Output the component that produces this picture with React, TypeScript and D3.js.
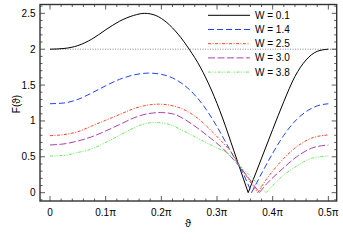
import React from 'react';
import * as d3 from 'd3';

// theta in units of pi, F value
const curveW01: [number, number][] = [
  [0, 2.0], [0.025, 2.01], [0.05, 2.05], [0.075, 2.14], [0.1, 2.27], [0.125, 2.39], [0.15, 2.47],
  [0.17, 2.5], [0.19, 2.47], [0.21, 2.37], [0.23, 2.21], [0.25, 2.0], [0.27, 1.75], [0.29, 1.43],
  [0.31, 1.04], [0.33, 0.59], [0.356, 0], [0.38, 0.48], [0.4, 0.88], [0.42, 1.27], [0.44, 1.62],
  [0.46, 1.85], [0.48, 1.97], [0.5, 2.0],
];
const curveW14: [number, number][] = [
  [0, 1.24], [0.025, 1.25], [0.05, 1.3], [0.075, 1.39], [0.1, 1.49], [0.125, 1.58], [0.15, 1.64],
  [0.177, 1.667], [0.2, 1.65], [0.225, 1.58], [0.25, 1.44], [0.275, 1.22], [0.3, 0.92], [0.325, 0.57],
  [0.345, 0.3], [0.362, 0], [0.383, 0.31], [0.4, 0.55], [0.42, 0.8], [0.443, 1.02], [0.46, 1.13],
  [0.48, 1.21], [0.5, 1.24],
];
const curveW25: [number, number][] = [
  [0, 0.795], [0.025, 0.81], [0.05, 0.85], [0.075, 0.93], [0.1, 1.01], [0.125, 1.09], [0.15, 1.17],
  [0.175, 1.22], [0.195, 1.234], [0.215, 1.22], [0.24, 1.16], [0.265, 1.04], [0.29, 0.86], [0.31, 0.7],
  [0.325, 0.57], [0.342, 0.36], [0.373, 0], [0.39, 0.2], [0.413, 0.42], [0.443, 0.64], [0.47, 0.76],
  [0.5, 0.805],
];
const curveW30: [number, number][] = [
  [0, 0.665], [0.025, 0.68], [0.05, 0.72], [0.075, 0.78], [0.1, 0.86], [0.125, 0.95], [0.15, 1.04],
  [0.175, 1.1], [0.198, 1.117], [0.22, 1.1], [0.24, 1.03], [0.265, 0.9], [0.29, 0.75], [0.31, 0.62],
  [0.325, 0.5], [0.342, 0.35], [0.376, 0], [0.39, 0.13], [0.413, 0.3], [0.443, 0.5], [0.47, 0.62],
  [0.5, 0.665],
];
const curveW38: [number, number][] = [
  [0, 0.51], [0.025, 0.52], [0.05, 0.56], [0.075, 0.61], [0.1, 0.7], [0.125, 0.8], [0.15, 0.9],
  [0.17, 0.96], [0.189, 0.978], [0.21, 0.96], [0.235, 0.88], [0.265, 0.76], [0.295, 0.64], [0.32, 0.54],
  [0.342, 0.37], [0.365, 0.19], [0.388, 0], [0.4, 0.1], [0.413, 0.2], [0.443, 0.37], [0.47, 0.48],
  [0.5, 0.51],
];

const seriesNames = ['W = 0.1', 'W = 1.4', 'W = 2.5', 'W = 3.0', 'W = 3.8'];
const seriesData = [curveW01, curveW14, curveW25, curveW30, curveW38];
const seriesColors = ['#000000', '#2244ff', '#ff4422', '#aa44aa', '#66ee55'];
const seriesDash = ['', '6,3', '3,1.5,1,1.5', '7,2.5', '3,1.5,1,1.5,1,1.5'];

const xTicks = [0, 0.1, 0.2, 0.3, 0.4, 0.5];
const xTickLabels = ['0', '0.1\u03c0', '0.2\u03c0', '0.3\u03c0', '0.4\u03c0', '0.5\u03c0'];
const yTicks = [0, 0.5, 1, 1.5, 2, 2.5];
const yTickLabels = ['0', '0.5', '1', '1.5', '2', '2.5'];
const refLevel = 2;

const W = 343, H = 242;
const left = 40, right = 336.7, top = 4.5, bottom = 201;
const font = 'Liberation Sans, Arial, sans-serif';

export default function App() {
  const x = d3.scaleLinear().domain([-0.018, 0.515]).range([left, right]);
  const y = d3.scaleLinear().domain([-0.116, 2.623]).range([bottom, top]);

  const line = d3.line<[number, number]>()
    .x(d => x(d[0]))
    .y(d => y(d[1]))
    .curve(d3.curveMonotoneX);

  // split at the zero so the cusp stays sharp
  const pathFor = (d: [number, number][]) => {
    const k = d.findIndex(p => p[1] === 0);
    if (k < 0) return line(d) || '';
    return (line(d.slice(0, k + 1)) || '') + (line(d.slice(k)) || '');
  };

  const xMinor = d3.range(0, 0.515, 0.02);
  const yMinor = d3.range(-0.1, 2.62, 0.1);
  const frame = '#333';

  return (
    <svg width={W} height={H} style={{ position: 'absolute', left: 0, top: 0 }}
      fontFamily={font}>
      <rect x={0} y={0} width={W} height={H} fill="#fff" />

      {/* reference level */}
      <line x1={x(0)} x2={right} y1={y(refLevel)} y2={y(refLevel)}
        stroke="#888" strokeWidth={1} strokeDasharray="1,1.5" />

      {seriesData.map((d, i) => (
        <path key={i} d={pathFor(d)} fill="none" stroke={seriesColors[i]}
          strokeWidth={1} strokeDasharray={seriesDash[i] || undefined} />
      ))}

      {/* ticks */}
      {xMinor.map((t, i) => {
        const major = xTicks.some(v => Math.abs(v - t) < 1e-6);
        const len = major ? 5 : 2.5;
        return (
          <g key={'xm' + i} stroke={frame} strokeWidth={0.8}>
            <line x1={x(t)} x2={x(t)} y1={bottom} y2={bottom - len} />
            <line x1={x(t)} x2={x(t)} y1={top} y2={top + len} />
          </g>
        );
      })}
      {yMinor.map((v, i) => {
        const major = yTicks.some(t => Math.abs(t - v) < 1e-6);
        const len = major ? 5 : 2.5;
        return (
          <g key={'ym' + i} stroke={frame} strokeWidth={0.8}>
            <line x1={left} x2={left + len} y1={y(v)} y2={y(v)} />
            <line x1={right} x2={right - len} y1={y(v)} y2={y(v)} />
          </g>
        );
      })}

      <rect x={left} y={top} width={right - left} height={bottom - top}
        fill="none" stroke={frame} strokeWidth={1.4} />

      {xTicks.map((t, i) => (
        <text key={'xl' + i} x={x(t)} y={215.5} fontSize={10} textAnchor="middle">{xTickLabels[i]}</text>
      ))}
      {yTicks.map((v, i) => (
        <text key={'yl' + i} x={35.5} y={y(v)} dy="0.35em" fontSize={10} textAnchor="end">{yTickLabels[i]}</text>
      ))}

      <text x={188} y={227} fontSize={11} textAnchor="middle">{'\u03d1'}</text>
      <text transform={`translate(20,104) rotate(-90)`} fontSize={10} textAnchor="middle">F({'\u03d1'})</text>

      {/* legend */}
      {seriesNames.map((name, i) => {
        const ly = 15.3 + i * 14.2;
        return (
          <g key={'lg' + i}>
            <line x1={208} x2={250} y1={ly} y2={ly} stroke={seriesColors[i]} strokeWidth={1}
              strokeDasharray={seriesDash[i] || undefined} />
            <text x={255} y={ly} dy="0.35em" fontSize={10}>{name}</text>
          </g>
        );
      })}
    </svg>
  );
}
